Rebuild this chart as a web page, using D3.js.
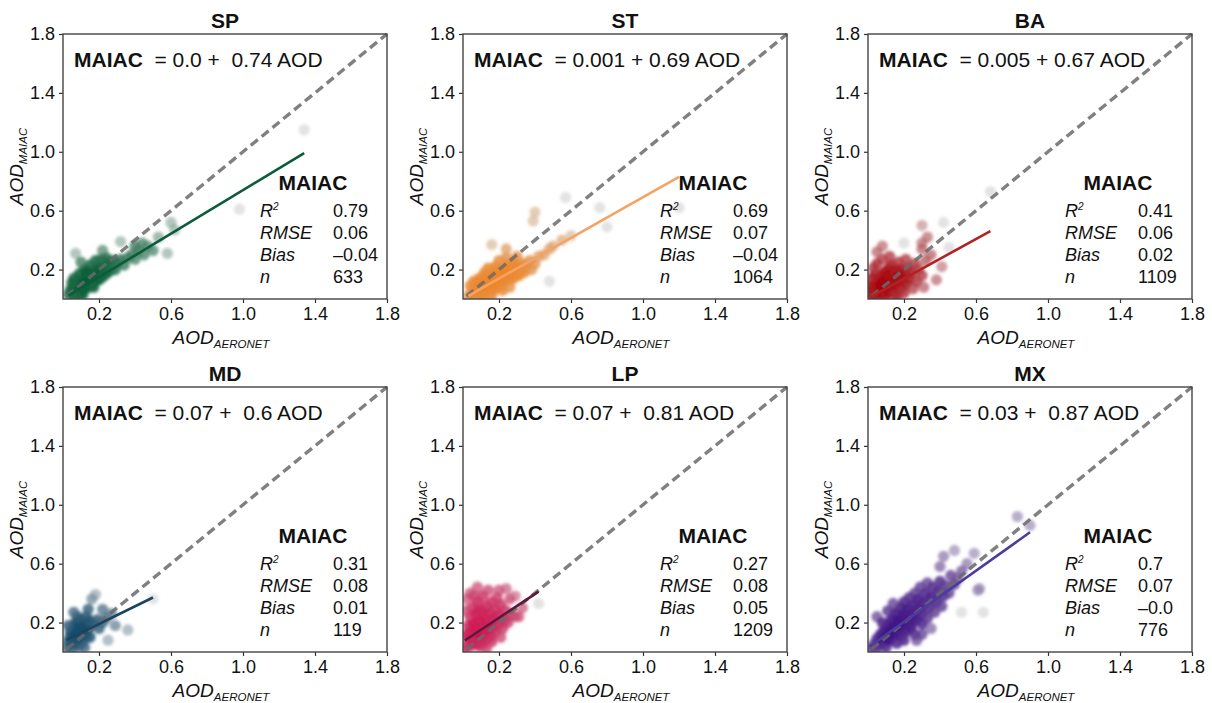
<!DOCTYPE html>
<html lang="en">
<head>
<meta charset="utf-8">
<script src="https://d3js.org/d3.v7.min.js"></script>
<style>
  body { margin: 0; background: #fff; }
  text { font-family: "Liberation Sans", Arial, sans-serif; fill: #111; }
</style>
</head>
<body>
<script>
// ---- data ----
const sites = ["SP", "ST", "BA", "MD", "LP", "MX"];
const interceptLabels = ["0.0", "0.001", "0.005", "0.07", "0.07", "0.03"];
const slopes = [0.74, 0.69, 0.67, 0.6, 0.81, 0.87];
const r2Vals = ["0.79", "0.69", "0.41", "0.31", "0.27", "0.7"];
const rmseVals = ["0.06", "0.07", "0.06", "0.08", "0.08", "0.07"];
const biasVals = ["\u20130.04", "\u20130.04", "0.02", "0.01", "0.05", "\u20130.0"];
const counts = [633, 1064, 1109, 119, 1209, 776];
const tickVals = [0.2, 0.6, 1.0, 1.4, 1.8];

const spPoints = [[0.03,0.03],[0.04,0.06],[0.05,0.03],[0.06,0.08],[0.07,0.05],[0.08,0.1],[0.08,0.03],[0.09,0.07],
  [0.1,0.12],[0.1,0.05],[0.11,0.09],[0.12,0.14],[0.12,0.07],[0.13,0.11],[0.14,0.16],[0.14,0.08],[0.15,0.12],
  [0.16,0.18],[0.16,0.1],[0.17,0.14],[0.18,0.2],[0.18,0.12],[0.19,0.16],[0.2,0.22],[0.2,0.13],[0.21,0.18],
  [0.22,0.15],[0.23,0.21],[0.24,0.17],[0.25,0.24],[0.26,0.19],[0.27,0.22],[0.28,0.26],[0.29,0.2],[0.3,0.24],
  [0.06,0.14],[0.09,0.17],[0.12,0.2],[0.15,0.23],[0.18,0.26],[0.21,0.27],[0.05,0.11],[0.07,0.02],[0.11,0.03],
  [0.13,0.18],[0.17,0.08],[0.24,0.28],[0.32,0.27],[0.34,0.23],[0.36,0.28],[0.38,0.3],[0.4,0.27],[0.42,0.33],
  [0.45,0.3],[0.47,0.36],[0.5,0.33],[0.53,0.42],[0.62,0.47],[0.4,0.36],[0.44,0.38],[0.07,0.31],[0.32,0.39],
  [0.58,0.31],[0.6,0.52],[0.98,0.61],[1.34,1.15],[0.22,0.33],[0.1,0.25]];

const stPoints = [[0.03,0.02],[0.05,0.05],[0.05,0.02],[0.07,0.07],[0.07,0.03],[0.08,0.1],[0.09,0.05],[0.1,0.08],
  [0.1,0.03],[0.11,0.12],[0.12,0.06],[0.13,0.1],[0.13,0.15],[0.14,0.04],[0.15,0.08],[0.15,0.13],[0.16,0.17],
  [0.17,0.06],[0.17,0.11],[0.18,0.15],[0.19,0.19],[0.2,0.09],[0.2,0.13],[0.21,0.17],[0.22,0.21],[0.22,0.11],
  [0.23,0.15],[0.24,0.19],[0.25,0.23],[0.25,0.13],[0.26,0.17],[0.27,0.21],[0.28,0.25],[0.28,0.14],[0.29,0.18],
  [0.3,0.22],[0.31,0.16],[0.32,0.2],[0.33,0.24],[0.34,0.18],[0.35,0.22],[0.37,0.26],[0.38,0.2],[0.4,0.24],
  [0.06,0.12],[0.09,0.14],[0.12,0.18],[0.18,0.22],[0.2,0.26],[0.24,0.28],[0.3,0.29],[0.14,0.21],[0.04,0.09],
  [0.11,0.01],[0.16,0.02],[0.22,0.06],[0.26,0.08],[0.42,0.29],[0.45,0.3],[0.48,0.34],[0.5,0.36],[0.55,0.4],
  [0.6,0.43],[0.16,0.37],[0.39,0.53],[0.4,0.59],[0.57,0.69],[0.76,0.62],[0.8,0.49],[0.24,0.34],[1.2,0.62],
  [0.48,0.12]];

const baPoints = [[0.01,0.01],[0.02,0.04],[0.03,0.02],[0.03,0.07],[0.04,0.1],[0.05,0.03],[0.05,0.06],[0.06,0.12],
  [0.06,0.01],[0.07,0.08],[0.07,0.15],[0.08,0.04],[0.08,0.11],[0.09,0.18],[0.09,0.07],[0.1,0.02],[0.1,0.13],
  [0.11,0.09],[0.11,0.2],[0.12,0.05],[0.12,0.16],[0.13,0.11],[0.13,0.23],[0.14,0.08],[0.14,0.14],[0.15,0.19],
  [0.15,0.03],[0.16,0.11],[0.17,0.16],[0.17,0.25],[0.18,0.07],[0.18,0.2],[0.19,0.13],[0.2,0.17],[0.21,0.1],
  [0.21,0.27],[0.22,0.21],[0.23,0.14],[0.24,0.18],[0.02,0.14],[0.04,0.17],[0.03,0.21],[0.05,0.24],[0.08,0.27],
  [0.12,0.29],[0.26,0.24],[0.27,0.12],[0.28,0.2],[0.01,0.08],[0.16,0.01],[0.2,0.04],[0.25,0.07],[0.3,0.16],
  [0.32,0.26],[0.35,0.3],[0.3,0.34],[0.05,0.32],[0.2,0.38],[0.3,0.38],[0.33,0.42],[0.3,0.5],[0.42,0.52],
  [0.41,0.22],[0.31,0.08],[0.38,0.13],[0.45,0.35],[0.68,0.73],[0.08,0.36]];

const mdPoints = [[0.02,0.03],[0.03,0.08],[0.04,0.05],[0.04,0.13],[0.05,0.02],[0.05,0.1],[0.06,0.16],[0.06,0.06],
  [0.07,0.12],[0.07,0.2],[0.08,0.08],[0.08,0.15],[0.09,0.04],[0.09,0.18],[0.1,0.11],[0.1,0.22],[0.11,0.14],
  [0.11,0.07],[0.12,0.19],[0.13,0.12],[0.13,0.24],[0.14,0.16],[0.15,0.21],[0.15,0.1],[0.16,0.36],[0.18,0.39],
  [0.17,0.19],[0.19,0.22],[0.2,0.16],[0.22,0.29],[0.22,0.2],[0.24,0.23],[0.25,0.08],[0.27,0.26],[0.29,0.18],
  [0.36,0.15],[0.5,0.36],[0.03,0.18],[0.08,0.24],[0.12,0.03],[0.14,0.29],[0.06,0.27]];

const lpPoints = [[0.01,0.02],[0.02,0.06],[0.02,0.12],[0.03,0.18],[0.03,0.03],[0.04,0.09],[0.04,0.24],[0.05,0.14],
  [0.05,0.3],[0.06,0.05],[0.06,0.19],[0.07,0.1],[0.07,0.26],[0.08,0.15],[0.08,0.34],[0.09,0.21],[0.09,0.04],
  [0.1,0.12],[0.1,0.28],[0.11,0.17],[0.11,0.38],[0.12,0.08],[0.12,0.23],[0.13,0.31],[0.13,0.14],[0.14,0.19],
  [0.14,0.42],[0.15,0.26],[0.15,0.1],[0.16,0.34],[0.16,0.16],[0.17,0.22],[0.18,0.29],[0.18,0.13],[0.19,0.37],
  [0.2,0.19],[0.2,0.25],[0.21,0.32],[0.22,0.16],[0.23,0.22],[0.24,0.28],[0.25,0.2],[0.26,0.36],[0.27,0.25],
  [0.29,0.24],[0.31,0.24],[0.33,0.3],[0.42,0.33],[0.01,0.28],[0.02,0.36],[0.04,0.4],[0.06,0.38],[0.08,0.44],
  [0.03,0.11],[0.05,0.07],[0.07,0.16],[0.09,0.28],[0.11,0.05],[0.13,0.02],[0.16,0.07],[0.21,0.1],[0.2,0.42],
  [0.24,0.43],[0.29,0.38]];

const mxPoints = [[0.01,0.02],[0.03,0.05],[0.04,0.01],[0.05,0.09],[0.06,0.04],[0.07,0.12],[0.08,0.07],[0.09,0.15],
  [0.1,0.03],[0.1,0.1],[0.11,0.18],[0.12,0.08],[0.12,0.14],[0.13,0.22],[0.14,0.11],[0.15,0.17],[0.15,0.26],
  [0.16,0.06],[0.16,0.14],[0.17,0.21],[0.18,0.3],[0.18,0.11],[0.19,0.18],[0.2,0.25],[0.2,0.34],[0.21,0.14],
  [0.22,0.21],[0.22,0.29],[0.23,0.37],[0.24,0.17],[0.24,0.25],[0.25,0.32],[0.26,0.4],[0.26,0.12],[0.27,0.22],
  [0.28,0.29],[0.28,0.36],[0.29,0.44],[0.3,0.19],[0.3,0.26],[0.31,0.33],[0.32,0.4],[0.33,0.23],[0.33,0.47],
  [0.34,0.3],[0.35,0.37],[0.36,0.44],[0.37,0.27],[0.38,0.34],[0.39,0.41],[0.4,0.48],[0.41,0.31],[0.42,0.38],
  [0.43,0.45],[0.45,0.4],[0.46,0.52],[0.48,0.46],[0.5,0.5],[0.52,0.55],[0.05,0.24],[0.08,0.2],[0.11,0.28],
  [0.14,0.33],[0.2,0.08],[0.27,0.08],[0.3,0.12],[0.35,0.16],[0.42,0.65],[0.48,0.69],[0.59,0.67],[0.61,0.42],
  [0.62,0.43],[0.52,0.27],[0.64,0.27],[0.83,0.92],[0.9,0.86],[0.4,0.58],[0.55,0.6]];

const allPoints = [spPoints, stPoints, baPoints, mdPoints, lpPoints, mxPoints];

// ---- styling ----
const dotColors = ["#005c33", "#f08424", "#a8000a", "#154a6a", "#d0104f", "#3f1285"];
const lineColors = ["#0a5c3a", "#f3a465", "#b22222", "#1c4360", "#5a1a3a", "#4a3c9e"];

const W = 1212, H = 703;
const colLeft = [63, 463, 868], rowTop = [34, 387];
const pw = 324, ph = 265;

const svg = d3.select("body").append("svg").attr("width", W).attr("height", H);

svg.append("defs").append("filter").attr("id", "soft")
  .attr("x", "-20%").attr("y", "-20%").attr("width", "140%").attr("height", "140%")
  .append("feGaussianBlur").attr("stdDeviation", 1.4);

sites.forEach(function(site, i) {
  const g = svg.append("g")
    .attr("transform", `translate(${colLeft[i % 3]},${rowTop[Math.floor(i / 3)]})`);
  const x = d3.scaleLinear().domain([0, 1.8]).range([0, pw]);
  const y = d3.scaleLinear().domain([0, 1.8]).range([ph, 0]);
  const pts = allPoints[i];

  g.append("clipPath").attr("id", "clip" + i)
    .append("rect").attr("width", pw).attr("height", ph);

  // local density, neighbours within a few pixels
  const dens = pts.map(p => pts.filter(q =>
    Math.hypot(x(p[0]) - x(q[0]), y(p[1]) - y(q[1])) < 16).length);
  const maxD = d3.max(dens);
  const t = dens.map(d => (d - 1) / (maxD - 1));
  const col = d3.interpolateRgb("#bdbdbd", dotColors[i]);

  g.append("g").attr("clip-path", `url(#clip${i})`).attr("filter", "url(#soft)")
    .selectAll("circle").data(pts).enter().append("circle")
    .attr("cx", d => x(d[0]))
    .attr("cy", d => y(d[1]))
    .attr("r", 5.6)
    .attr("fill", (d, k) => col(Math.pow(t[k], 0.3)))
    .attr("fill-opacity", (d, k) => 0.42 + 0.58 * Math.pow(t[k], 0.45));

  // 1:1 line
  g.append("line")
    .attr("x1", x(0.02)).attr("y1", y(0.02)).attr("x2", x(1.8)).attr("y2", y(1.8))
    .attr("stroke", "#6a6a6a").attr("stroke-opacity", 0.85)
    .attr("stroke-width", 3.4).attr("stroke-dasharray", "9,5");

  // fitted line across the data range
  const b0 = parseFloat(interceptLabels[i]);
  const ext = d3.extent(pts, d => d[0]);
  g.append("line")
    .attr("x1", x(ext[0])).attr("y1", y(b0 + slopes[i] * ext[0]))
    .attr("x2", x(ext[1])).attr("y2", y(b0 + slopes[i] * ext[1]))
    .attr("stroke", lineColors[i]).attr("stroke-width", 2.6);

  // axes
  const ax = g.append("g").attr("transform", `translate(0,${ph})`)
    .call(d3.axisBottom(x).tickValues(tickVals).tickFormat(d3.format(".1f")).tickSize(4).tickPadding(4));
  const ay = g.append("g")
    .call(d3.axisLeft(y).tickValues(tickVals).tickFormat(d3.format(".1f")).tickSize(4).tickPadding(4));
  [ax, ay].forEach(a => {
    a.select(".domain").remove();
    a.selectAll(".tick line").attr("stroke", "#333").attr("stroke-width", 1.2);
    a.selectAll(".tick text").attr("font-size", 18).attr("fill", "#1a1a1a")
      .style("font-family", '"Liberation Sans", Arial, sans-serif');
  });

  g.append("rect").attr("width", pw).attr("height", ph)
    .attr("fill", "none").attr("stroke", "#444").attr("stroke-width", 1.4);

  // title
  g.append("text").attr("x", pw / 2).attr("y", -6).attr("text-anchor", "middle")
    .attr("font-size", 21).attr("font-weight", "bold").text(site);

  // axis labels
  const xl = g.append("text").attr("x", pw / 2 - 4).attr("y", ph + 45).attr("text-anchor", "middle")
    .attr("font-size", 19).attr("font-style", "italic");
  xl.append("tspan").text("AOD");
  xl.append("tspan").attr("font-size", 11.5).attr("dy", 4).text("AERONET");

  const yl = g.append("text").attr("transform", `translate(-40,${ph / 2}) rotate(-90)`)
    .attr("text-anchor", "middle").attr("font-size", 19).attr("font-style", "italic");
  yl.append("tspan").text("AOD");
  yl.append("tspan").attr("font-size", 11.5).attr("dy", 4).text("MAIAC");

  // regression equation
  const gap = interceptLabels[i].length < 5 ? "  " : " ";
  const eq = g.append("text").attr("x", 11).attr("y", 33).attr("font-size", 21)
    .style("white-space", "pre");
  eq.append("tspan").attr("font-weight", "bold").text("MAIAC");
  eq.append("tspan").text(`  = ${interceptLabels[i]} +${gap}${slopes[i]} AOD`);

  // stats block
  g.append("text").attr("x", 250).attr("y", 156).attr("text-anchor", "middle")
    .attr("font-size", 21).attr("font-weight", "bold").text("MAIAC");
  const rows = [["R", r2Vals[i]], ["RMSE", rmseVals[i]], ["Bias", biasVals[i]], ["n", String(counts[i])]];
  rows.forEach(function(r, k) {
    const ty = 183 + k * 22;
    const lab = g.append("text").attr("x", 197).attr("y", ty).attr("font-size", 18).attr("font-style", "italic");
    lab.append("tspan").text(r[0]);
    if (k === 0) lab.append("tspan").attr("font-size", 10).attr("dy", -7).text("2");
    g.append("text").attr("x", 270).attr("y", ty).attr("font-size", 18).text(r[1]);
  });
});
</script>
</body>
</html>
